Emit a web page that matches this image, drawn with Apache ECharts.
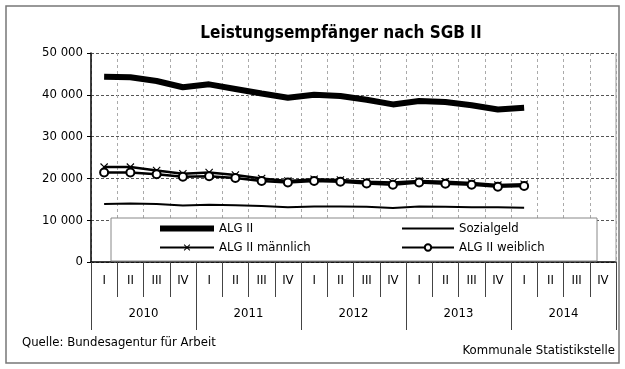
<!DOCTYPE html>
<html>
<head>
<meta charset="utf-8">
<script src="https://cdn.jsdelivr.net/npm/echarts@6/dist/echarts.min.js"></script>
<style>
  html, body { margin: 0; padding: 0; background: #fff; }
  #chart { width: 625px; height: 369px; }
</style>
</head>
<body>
<div id="chart"></div>
<script>
// Quarters (first axis row) and years (second axis row)
const quarters = ['I','II','III','IV','I','II','III','IV','I','II','III','IV','I','II','III','IV','I','II','III','IV'];
const years = ['2010', '2011', '2012', '2013', '2014'];
const yTicks = [0, 10000, 20000, 30000, 40000, 50000];

// Recipients per quarter, 2010 Q1 .. 2014 Q1
const algII = [44300, 44200, 43300, 41800, 42500, 41400, 40300, 39300, 40000, 39700, 38800, 37700, 38500, 38300, 37500, 36500, 36900];
const sozialgeld = [13900, 14000, 13900, 13500, 13700, 13600, 13400, 13100, 13300, 13300, 13200, 12900, 13300, 13200, 13100, 13100, 13000];
const algIIMaennlich = [22700, 22700, 21900, 21100, 21400, 20800, 20000, 19400, 19800, 19600, 19200, 19000, 19400, 19200, 18900, 18400, 18600];
const algIIWeiblich = [21400, 21400, 21000, 20400, 20500, 20100, 19400, 19000, 19400, 19200, 18800, 18500, 19000, 18700, 18500, 18000, 18200];

const FONT = "'Liberation Sans Narrow', 'DejaVu Sans Condensed', 'Arial Narrow', sans-serif";
const crossSymbol = 'path://M0,1L1,0L5,4L9,0L10,1L6,5L10,9L9,10L5,6L1,10L0,9L4,5Z';

const chart = echarts.init(document.getElementById('chart'), null, { renderer: 'canvas' });

const fmt = v => String(v).replace(/\B(?=(\d{3})+(?!\d))/g, ' ');

// plain lines: keep a symbol type so the legend draws a line, but make it invisible
const plainItem = { color: 'rgba(0,0,0,0)', borderWidth: 0 };
const legendText = { fontFamily: FONT, fontSize: 13, color: '#000' };

chart.setOption({
  animation: false,
  backgroundColor: '#fff',
  textStyle: { fontFamily: FONT, color: '#000' },
  title: {
    text: 'Leistungsempfänger nach SGB II',
    left: 336, top: 20, textAlign: 'center',
    textStyle: { fontFamily: FONT, fontSize: 17, fontWeight: 'bold', color: '#000' }
  },
  grid: { left: 91, right: 9, top: 53, bottom: 107, containLabel: false },
  graphic: [
    { type: 'rect', shape: { x: 6, y: 6, width: 613, height: 357 }, style: { fill: 'none', stroke: '#777', lineWidth: 1.5 }, z: 0 },
    { type: 'line', shape: { x1: 616, y1: 53, x2: 616, y2: 262 }, style: { stroke: '#999', lineWidth: 1 }, z: 1 },
    { type: 'rect', shape: { x: 111, y: 218, width: 486, height: 43 }, style: { fill: '#fff', stroke: '#888', lineWidth: 1 }, z: 50 },
    { type: 'text', left: 22, top: 336, style: { text: 'Quelle: Bundesagentur für Arbeit', font: '13px ' + FONT, fill: '#000' } },
    { type: 'text', right: 10, top: 344, style: { text: 'Kommunale Statistikstelle', font: '13px ' + FONT, fill: '#000' } }
  ],
  legend: [
    {
      data: [
        { name: 'ALG II', lineStyle: { width: 6 } },
        { name: 'ALG II männlich', lineStyle: { width: 2 } }
      ],
      orient: 'vertical', left: 157, top: 222, padding: 0, itemWidth: 54, itemHeight: 8, itemGap: 6,
      textStyle: legendText, z: 60
    },
    {
      data: [
        { name: 'Sozialgeld', lineStyle: { width: 2 } },
        { name: 'ALG II weiblich', lineStyle: { width: 2 } }
      ],
      orient: 'vertical', left: 401, top: 222, padding: 0, itemWidth: 52, itemHeight: 8, itemGap: 6,
      textStyle: legendText, z: 60
    }
  ],
  xAxis: [
    {
      type: 'category', data: quarters, position: 'bottom', boundaryGap: true,
      axisLine: { show: true, lineStyle: { color: '#000', width: 1.5 } },
      axisTick: { show: true, interval: 0, length: 35, lineStyle: { color: '#444' } },
      axisLabel: { interval: 0, margin: 12, fontFamily: FONT, fontSize: 13, color: '#000' },
      splitLine: { show: true, interval: 0, lineStyle: { color: '#aaa', type: [3, 3] } }
    },
    {
      type: 'category', data: years, position: 'bottom', offset: 35, boundaryGap: true,
      axisLine: { show: false },
      axisTick: { show: true, interval: 0, length: 33, lineStyle: { color: '#444' } },
      axisLabel: { interval: 0, margin: 10, fontFamily: FONT, fontSize: 13, color: '#000' },
      splitLine: { show: false }
    }
  ],
  yAxis: {
    type: 'value', min: yTicks[0], max: yTicks[yTicks.length - 1], interval: 10000,
    axisLine: { show: true, lineStyle: { color: '#000', width: 1.5 } },
    axisTick: { show: true, length: 4, lineStyle: { color: '#000' } },
    axisLabel: { formatter: fmt, margin: 8, fontFamily: FONT, fontSize: 13, color: '#000' },
    splitLine: { show: true, lineStyle: { color: '#555', type: [3, 2] } }
  },
  series: [
    {
      name: 'ALG II', type: 'line', data: algII, xAxisIndex: 0,
      symbol: 'circle', showSymbol: false, lineStyle: { color: '#000', width: 6 }, itemStyle: plainItem, z: 5
    },
    {
      name: 'Sozialgeld', type: 'line', data: sozialgeld, xAxisIndex: 0,
      symbol: 'circle', showSymbol: false, lineStyle: { color: '#000', width: 2 }, itemStyle: plainItem, z: 5
    },
    {
      name: 'ALG II männlich', type: 'line', data: algIIMaennlich, xAxisIndex: 0,
      symbol: crossSymbol, symbolSize: 8, showAllSymbol: true,
      lineStyle: { color: '#000', width: 2.5 }, itemStyle: { color: '#000' }, z: 5
    },
    {
      name: 'ALG II weiblich', type: 'line', data: algIIWeiblich, xAxisIndex: 0,
      symbol: 'emptyCircle', symbolSize: 8, showAllSymbol: true,
      lineStyle: { color: '#000', width: 2.5 }, itemStyle: { color: '#000', borderWidth: 2, borderColor: '#000' }, z: 6
    }
  ]
});
</script>
</body>
</html>
